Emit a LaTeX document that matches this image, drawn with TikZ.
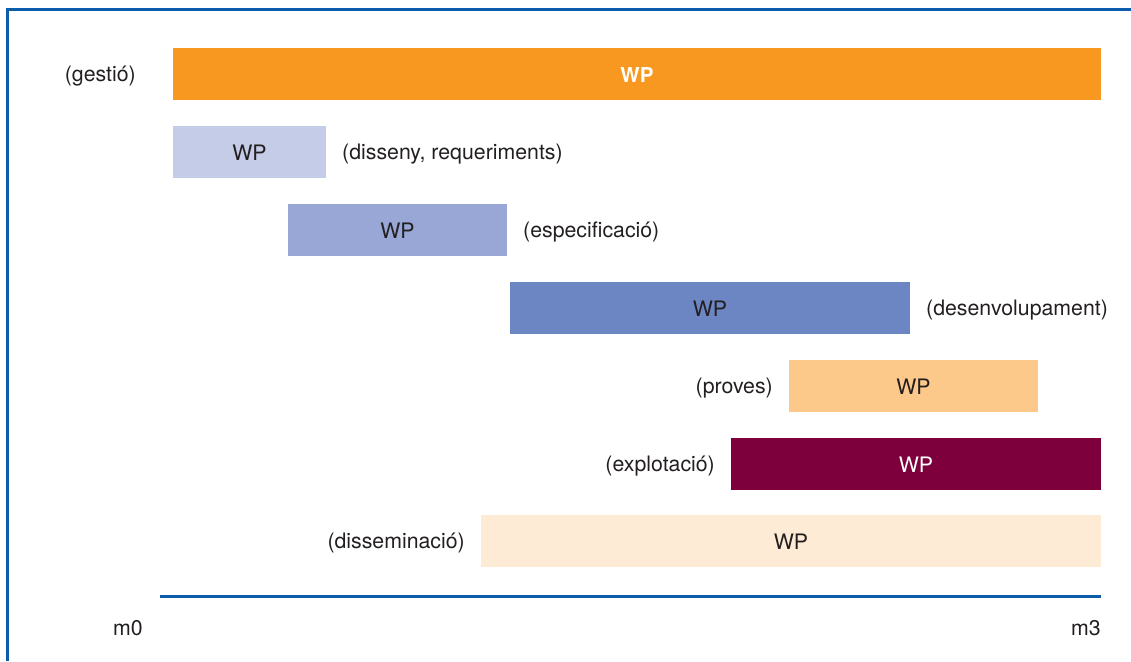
\documentclass[tikz,border=0pt]{standalone}
\usepackage{fontspec}
\setmainfont{TeX Gyre Heros}
\usetikzlibrary{positioning}

\definecolor{frameblue}{HTML}{0B5CAB}
\definecolor{txtgrey}{HTML}{231F20}
\definecolor{wpgestio}{HTML}{F89820}
\definecolor{wpdisseny}{HTML}{C5CCE7}
\definecolor{wpespec}{HTML}{98A7D5}
\definecolor{wpdesenv}{HTML}{6C86C3}
\definecolor{wpproves}{HTML}{FDC98B}
\definecolor{wpexplot}{HTML}{7D003C}
\definecolor{wpdissem}{HTML}{FDEBD6}

\begin{document}
\begin{tikzpicture}[x=1pt,y=-1pt,
        node distance = 16pt,
        font=\fontsize{21.3}{25}\selectfont,
        bar/.style = {anchor=north west,minimum height=52pt,
            text height=17.5pt,text depth=0pt,
            inner sep=0pt,outer sep=0pt,text=txtgrey},
        lbl/.style = {inner sep=0pt,text=txtgrey,text depth=0pt,anchor=base}]
    \useasboundingbox (0,0) rectangle (1131,661);
    % frame
    \draw[frameblue,line width=3pt] (1131,10) -- (7,10) -- (7,661);
    % work packages
    \node[bar,fill=wpgestio,minimum width=928pt,text=white,font=\fontsize{20.5}{25}\selectfont\bfseries]
        (gestio) at (173,48) {WP};
    \node[bar,fill=wpdisseny,minimum width=153pt] (disseny) at (173,126) {WP};
    \node[bar,fill=wpespec,minimum width=219pt] (espec) at (288,204) {WP};
    \node[bar,fill=wpdesenv,minimum width=400pt] (desenv) at (510,282) {WP};
    \node[bar,fill=wpproves,minimum width=249pt] (proves) at (789,360) {WP};
    \node[bar,fill=wpexplot,minimum width=370pt,text=white] (explot) at (731,438) {WP};
    \node[bar,fill=wpdissem,minimum width=620pt] (dissem) at (481,515) {WP};
    % labels
    \node[lbl,anchor=east,left=37pt of gestio] (lgestio) {(gestió)};
    \node[lbl,anchor=west,right=of disseny] (ldisseny) {(disseny, requeriments)};
    \node[lbl,anchor=west,right=of espec] (lespec) {(especificació)};
    \node[lbl,anchor=west,right=of desenv] (ldesenv) {(desenvolupament)};
    \node[lbl,anchor=east,left=of proves] (lproves) {(proves)};
    \node[lbl,anchor=east,left=of explot] (lexplot) {(explotació)};
    \node[lbl,anchor=east,left=of dissem] (ldissem) {(disseminació)};
    % time axis
    \coordinate (t0) at (160,596);
    \coordinate (t3) at (1101,596);
    \draw[frameblue,line width=3pt] (t0) -- (t3);
    \node[lbl] (m0) at (128,635) {m0};
    \node[lbl,anchor=base east] (m3) at (1101,635) {m3};
\end{tikzpicture}
\end{document}
